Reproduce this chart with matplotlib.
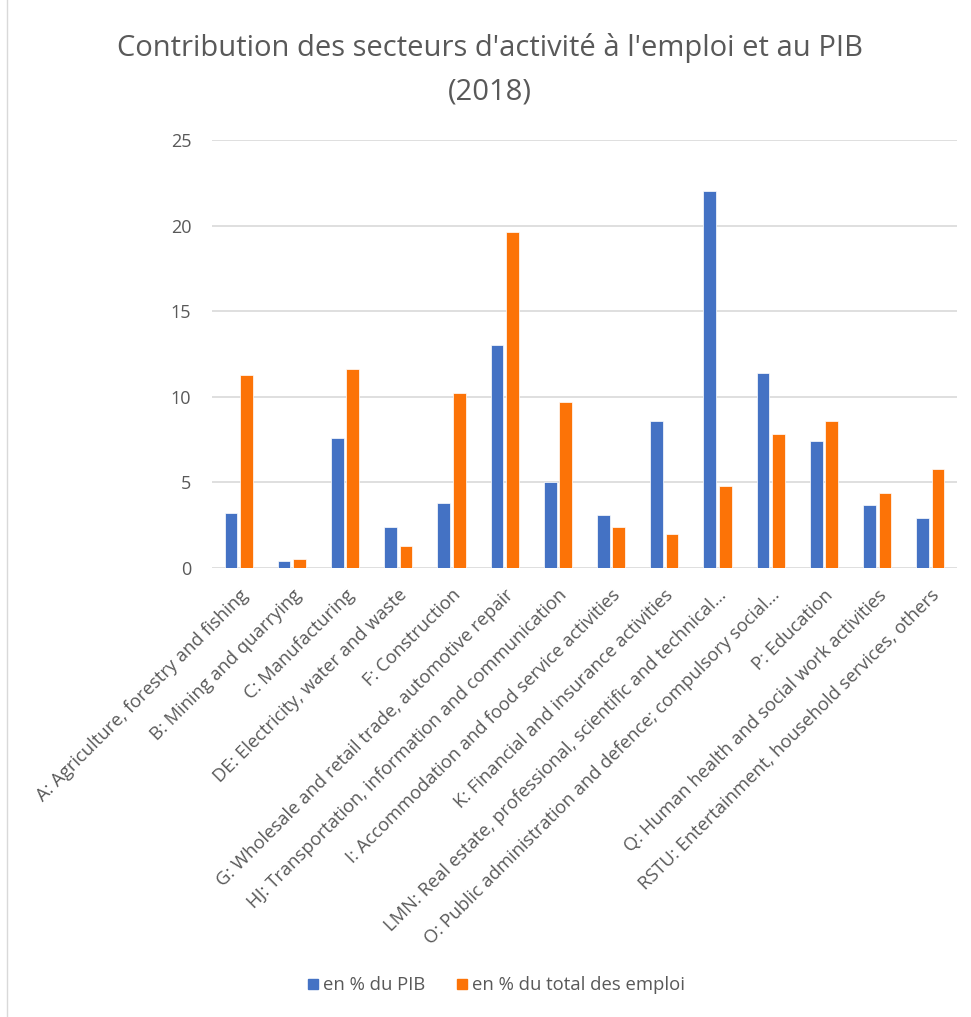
import numpy as np
import matplotlib.pyplot as plt
from matplotlib.lines import Line2D

plt.rcParams['font.family'] = ['Open Sans', 'DejaVu Sans']

sectors = [
    "A: Agriculture, forestry and fishing",
    "B: Mining and quarrying",
    "C: Manufacturing",
    "DE: Electricity, water and waste",
    "F: Construction",
    "G: Wholesale and retail trade, automotive repair",
    "HJ: Transportation, information and communication",
    "I: Accommodation and food service activities",
    "K: Financial and insurance activities",
    "LMN: Real estate, professional, scientific and technical\u2026",
    "O: Public administration and defence; compulsory social\u2026",
    "P: Education",
    "Q: Human health and social work activities",
    "RSTU: Entertainment, household services, others",
]
pib = [3.2, 0.4, 7.6, 2.4, 3.8, 13.0, 5.0, 3.1, 8.6, 22.0, 11.4, 7.4, 3.7, 2.9]
emploi = [11.3, 0.5, 11.6, 1.3, 10.2, 19.6, 9.7, 2.4, 2.0, 4.8, 7.8, 8.6, 4.4, 5.8]

BLUE = '#4472C4'
ORANGE = '#FC7307'
GREY = '#595959'

fig = plt.figure(figsize=(9.71, 10.17), dpi=100)
ax = fig.add_axes([212 / 971, 1 - 568 / 1017, 745 / 971, 428 / 1017])

x = np.arange(len(sectors))
ax.bar(x - 0.145, pib, width=0.24, color=BLUE, edgecolor='white', linewidth=0.5, zorder=3)
ax.bar(x + 0.145, emploi, width=0.24, color=ORANGE, edgecolor='white', linewidth=0.5, zorder=3)

ax.set_xlim(-0.5, len(sectors) - 0.5)
ax.set_ylim(0, 25)
ax.set_yticks([0, 5, 10, 15, 20, 25])
ax.yaxis.grid(True, color='#D9D9D9', linewidth=1.2, zorder=0)
for s in ax.spines.values():
    s.set_visible(False)
ax.tick_params(axis='both', length=0, colors=GREY, labelsize=13)
ax.tick_params(axis='y', pad=15)
ax.set_xticks(x)
ax.set_xticklabels(sectors, rotation=45, ha='right', rotation_mode='anchor',
                   fontsize=13.2, color=GREY)
ax.tick_params(axis='x', pad=13)

fig.text(0.505, 1 - 48 / 1017, "Contribution des secteurs d'activité à l'emploi et au PIB",
         ha='center', va='center', fontsize=21, color=GREY)
fig.text(0.505, 1 - 92 / 1017, "(2018)", ha='center', va='center', fontsize=21, color=GREY)

handles = [Line2D([], [], marker='s', linestyle='none', markersize=7, color=BLUE),
           Line2D([], [], marker='s', linestyle='none', markersize=7, color=ORANGE)]
fig.legend(handles, ["en % du PIB", "en % du total des emploi"],
           loc='center', bbox_to_anchor=(0.51, 1 - 985 / 1017), ncol=2,
           frameon=False, fontsize=13.3, labelcolor=GREY, handletextpad=0.15,
           columnspacing=1.6, handlelength=0.8)

fig.add_artist(Line2D([7 / 971, 7 / 971], [0, 1], color='#D9D9D9', linewidth=1))

fig.savefig('out.png', dpi=100, facecolor='white')
